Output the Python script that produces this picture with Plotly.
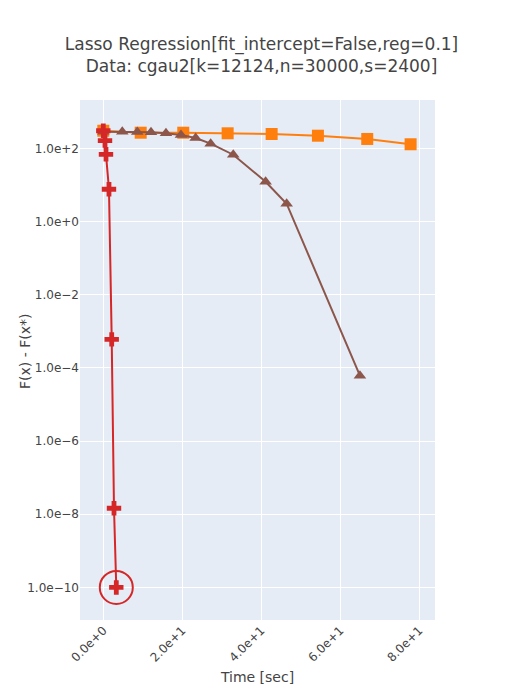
import plotly.graph_objects as go

# Data
red_time = [0.0, 0.43, 0.68, 1.44, 2.13, 2.71, 3.29]
red_gap = [302, 162, 68.5, 7.6, 6.0e-4, 1.46e-8, 1.0e-10]

brown_time = [0.0, 4.81, 8.61, 12.08, 15.87, 19.67, 23.39, 27.19, 32.91, 41.11, 46.43, 64.99]
brown_gap = [284, 284, 279, 274, 257, 231, 191, 134, 66.8, 12.2, 3.06, 6.1e-5]

orange_time = [0.0, 9.47, 20.25, 31.49, 42.63, 54.35, 66.84, 77.82]
orange_gap = [302, 267, 267, 257, 246, 221, 180, 129]

title_lines = ["Lasso Regression[fit_intercept=False,reg=0.1]",
               "Data: cgau2[k=12124,n=30000,s=2400]"]
y_title = "F(x) - F(x*)"
x_title = "Time [sec]"

RED = "#d62728"
ORANGE = "#ff7f0e"
BROWN = "#8c564b"

fig = go.Figure()
fig.add_trace(go.Scatter(x=orange_time, y=orange_gap, mode="lines+markers",
                         line=dict(color=ORANGE, width=2),
                         marker=dict(symbol="square", size=12, color=ORANGE)))
fig.add_trace(go.Scatter(x=brown_time, y=brown_gap, mode="lines+markers",
                         line=dict(color=BROWN, width=2),
                         marker=dict(symbol="triangle-up", size=11, color=BROWN)))
fig.add_trace(go.Scatter(x=red_time, y=red_gap, mode="lines+markers",
                         line=dict(color=RED, width=2),
                         marker=dict(symbol="cross", size=12, color=RED)))
fig.add_trace(go.Scatter(x=[red_time[-1]], y=[red_gap[-1]], mode="markers",
                         marker=dict(symbol="circle-open", size=33, color=RED,
                                     line=dict(width=2, color=RED))))

fig.add_annotation(text=y_title, textangle=-90, xref="paper", yref="paper",
                   x=0, y=0.5, xanchor="center", yanchor="middle",
                   xshift=-55, yshift=8, showarrow=False,
                   font=dict(size=14, color="#444"))

fig.update_layout(
    width=507, height=692,
    margin=dict(l=72, r=80, t=92, b=80, autoexpand=False),
    font=dict(family="Verdana, DejaVu Sans, sans-serif", size=12, color="#444"),
    title=dict(text="<br>".join(title_lines), x=0.5, xanchor="center",
               y=0.9388, yanchor="middle", yref="container",
               font=dict(size=17)),
    showlegend=False,
    plot_bgcolor="#E5ECF6",
    xaxis=dict(title=dict(text=x_title, font=dict(size=14), standoff=8),
               range=[-5.9, 84.0], dtick=20, tick0=0, tickformat=".1e",
               tickangle=-45, gridcolor="white", zeroline=False,
               automargin=False),
    yaxis=dict(type="log", range=[-10.89, 3.32], dtick=2, tickformat=".1e",
               gridcolor="white", zeroline=False, automargin=False),
)

fig.write_html("out.html")
